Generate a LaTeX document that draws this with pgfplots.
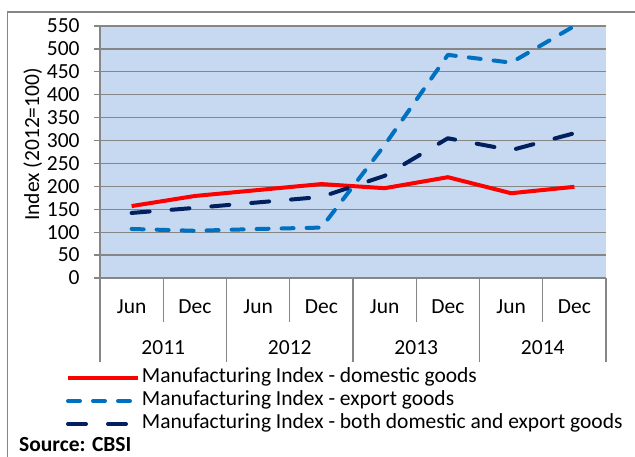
\documentclass[border=0pt]{standalone}
\usepackage{pgfplots}
\pgfplotsset{compat=1.18}
\usepackage{fontspec}
\setmainfont{Carlito}
\definecolor{plotbg}{HTML}{C6D9F1}
\definecolor{gridgray}{HTML}{868686}
\definecolor{domred}{HTML}{FF0000}
\definecolor{expblue}{HTML}{0070C0}
\definecolor{bothnavy}{HTML}{002060}

\begin{document}
\fontsize{21.5}{25}\selectfont
\begin{tikzpicture}
  \begin{axis}[
      name=ax,
      scale only axis, width=506pt, height=252pt,
      xmin=-0.5, xmax=7.5, ymin=0, ymax=550,
      ytick={0,50,...,550},
      xtick={0,...,7},
      xticklabels={Jun,Dec,Jun,Dec,Jun,Dec,Jun,Dec},
      xticklabel style={yshift=-8pt},
      yticklabel style={xshift=-7pt},
      major x tick style={draw=none},
      axis x line=bottom, axis y line=left,
      axis line style={-, gridgray, line width=1.3pt},
      tick align=outside,
      major tick length=6pt,
      ytick style={gridgray, line width=1.3pt},
      axis background/.style={fill=plotbg},
      ymajorgrids, grid style={gridgray, line width=1.3pt},
      /pgf/number format/assume math mode=true,
      ylabel={Index (2012=100)},
      ylabel style={at={(axis description cs:-0.133,0.53)}, anchor=center},
      clip=false,
      legend cell align=left,
      legend image code/.code={\draw[#1] (0pt,0pt) -- (70pt,0pt);},
      legend style={at={(axis description cs:0,0)}, anchor=north west,
        xshift=-34pt, yshift=-88.5pt, draw=none, fill=none,
        inner sep=0pt, outer sep=0pt, row sep=0pt,
        nodes={inner sep=2pt, text height=14pt, text depth=5pt},
        /tikz/every even column/.append style={column sep=4pt}},
    ]
    \addplot[domred, line width=4pt, line join=round] coordinates {
      (0,157) (1,179) (2,192) (3,205) (4,196) (5,220) (6,185) (7,199)
    };
    \addlegendentry{Manufacturing Index - domestic goods}
    \addplot[expblue, line width=4pt, line cap=round, line join=round,
      dash pattern=on 12pt off 13pt] coordinates {
      (0,107) (1,103) (2,107) (3,110) (4,290) (5,487) (6,470) (7,550)
    };
    \addlegendentry{Manufacturing Index - export goods}
    \addplot[bothnavy, line width=4pt, line cap=round, line join=round,
      dash pattern=on 18pt off 22pt] coordinates {
      (0,142) (1,153) (2,165) (3,177) (4,223) (5,305) (6,279) (7,316)
    };
    \addlegendentry{Manufacturing Index - both domestic and export goods}
    % category table lines
    \draw[gridgray, line width=1.3pt] (axis cs:0.5,0) -- ++(0pt,-44pt);
    \draw[gridgray, line width=1.3pt] (axis cs:2.5,0) -- ++(0pt,-44pt);
    \draw[gridgray, line width=1.3pt] (axis cs:4.5,0) -- ++(0pt,-44pt);
    \draw[gridgray, line width=1.3pt] (axis cs:6.5,0) -- ++(0pt,-44pt);
    \draw[gridgray, line width=1.3pt] (axis cs:-0.5,0) -- ++(0pt,-84pt);
    \draw[gridgray, line width=1.3pt] (axis cs:1.5,0) -- ++(0pt,-84pt);
    \draw[gridgray, line width=1.3pt] (axis cs:3.5,0) -- ++(0pt,-84pt);
    \draw[gridgray, line width=1.3pt] (axis cs:5.5,0) -- ++(0pt,-84pt);
    \draw[gridgray, line width=1.3pt] (axis cs:7.5,0) -- ++(0pt,-84pt);
    \node at (axis cs:0.5,0) [yshift=-70pt] {2011};
    \node at (axis cs:2.5,0) [yshift=-70pt] {2012};
    \node at (axis cs:4.5,0) [yshift=-70pt] {2013};
    \node at (axis cs:6.5,0) [yshift=-70pt] {2014};
  \end{axis}
  \begin{scope}[shift={(ax.south west)}]
    \node[anchor=west, font=\bfseries, inner sep=0pt] at (-81pt,-167pt) {Source: CBSI};
    \draw[overlay, gridgray, line width=1.3pt] (-92.5pt,266pt) rectangle (700pt,-300pt);
    \path (-100pt,278pt) rectangle (535pt,-179pt);
  \end{scope}
\end{tikzpicture}
\end{document}
